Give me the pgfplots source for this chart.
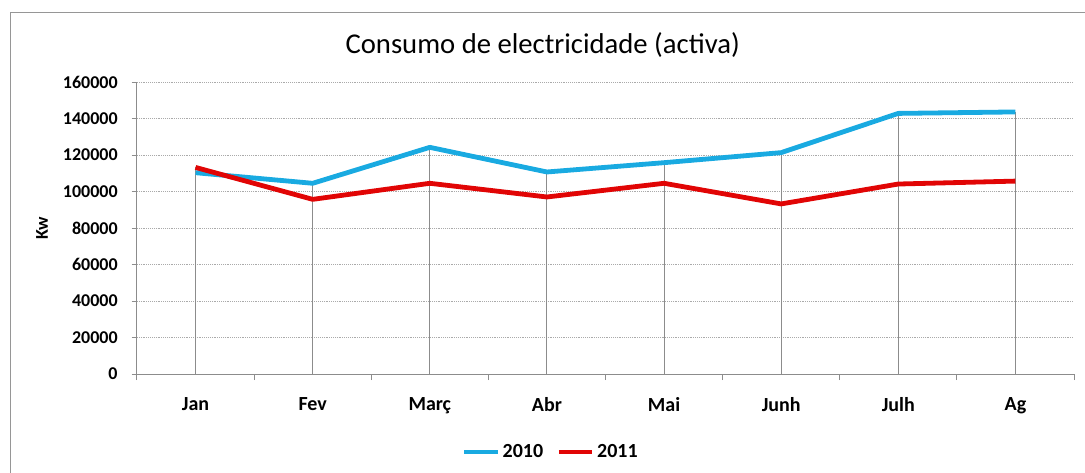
\documentclass[border=0pt]{standalone}
\usepackage{fontspec}
\setmainfont{Carlito}
\usepackage{pgfplots}
\pgfplotsset{compat=1.18}
\definecolor{c2010}{RGB}{25,170,225}
\definecolor{c2011}{RGB}{225,5,5}
\definecolor{axgray}{RGB}{140,140,140}
\definecolor{framegray}{RGB}{150,150,150}
\begin{document}
\begin{tikzpicture}
\useasboundingbox (0,0) rectangle (813.75pt,-354pt);
\begin{scope}
\clip (0,0) rectangle (813.75pt,-354pt);
\draw[framegray, line width=0.75pt] (7.5pt,-400pt) -- (7.5pt,-9pt) -- (850pt,-9pt);
\end{scope}
\node[font=\fontsize{21.5}{25}\selectfont] at (407pt,-33.75pt) {Consumo de electricidade (activa)};
\node[rotate=90, font=\bfseries\fontsize{13.5}{15}\selectfont] at (31.5pt,-171pt) {Kw};
\begin{axis}[
  at={(102.75pt,-280.5pt)}, anchor=south west,
  scale only axis, width=702.75pt, height=219pt,
  xmin=-0.5, xmax=7.5, ymin=0, ymax=160000,
  axis x line=bottom, axis y line=left,
  axis line style={-, axgray, line width=0.75pt},
  xtick={0,...,7},
  xticklabels={Jan,Fev,Març,Abr,Mai,Junh,Julh,Ag},
  minor xtick={-0.5,0.5,1.5,2.5,3.5,4.5,5.5,6.5,7.5},
  major x tick style={draw=none},
  minor x tick style={axgray, line width=0.75pt},
  minor tick length=4.5pt,
  ytick={0,20000,...,160000},
  major tick length=4pt,
  y tick style={axgray, line width=0.75pt},
  tick align=outside,
  ymajorgrids,
  major grid style={densely dotted, color={rgb,255:red,170;green,170;blue,170}, line width=0.6pt},
  scaled y ticks=false,
  y tick label style={/pgf/number format/fixed, /pgf/number format/1000 sep={}},
  /pgf/number format/assume math mode=true,
  yticklabel style={font=\bfseries\fontsize{13.5}{15}\selectfont, xshift=-7pt},
  xticklabel style={font=\bfseries\fontsize{15}{17}\selectfont, yshift=-10pt},
  legend style={at={(0.442,-0.267)}, anchor=center, draw=none, fill=none,
    font=\bfseries\fontsize{15}{17}\selectfont,
    /tikz/every even column/.append style={column sep=8pt}},
  legend columns=2,
  legend image code/.code={\draw[#1, line width=3.5pt] (0pt,0pt) -- (25pt,0pt);},
]
\addplot[ycomb, axgray, line width=0.75pt, forget plot] coordinates {
 (0,113200) (1,104500) (2,124200) (3,110700) (4,115800) (5,121300) (6,142800) (7,143600)};
\addplot[c2010, line width=3.6pt, line join=round] coordinates {
 (0,110300) (1,104500) (2,124200) (3,110700) (4,115800) (5,121300) (6,142800) (7,143600)};
\addlegendentry{2010}
\addplot[c2011, line width=3.6pt, line join=round] coordinates {
 (0,113200) (1,95700) (2,104500) (3,97000) (4,104500) (5,93200) (6,104100) (7,105700)};
\addlegendentry{2011}
\end{axis}
\end{tikzpicture}
\end{document}
